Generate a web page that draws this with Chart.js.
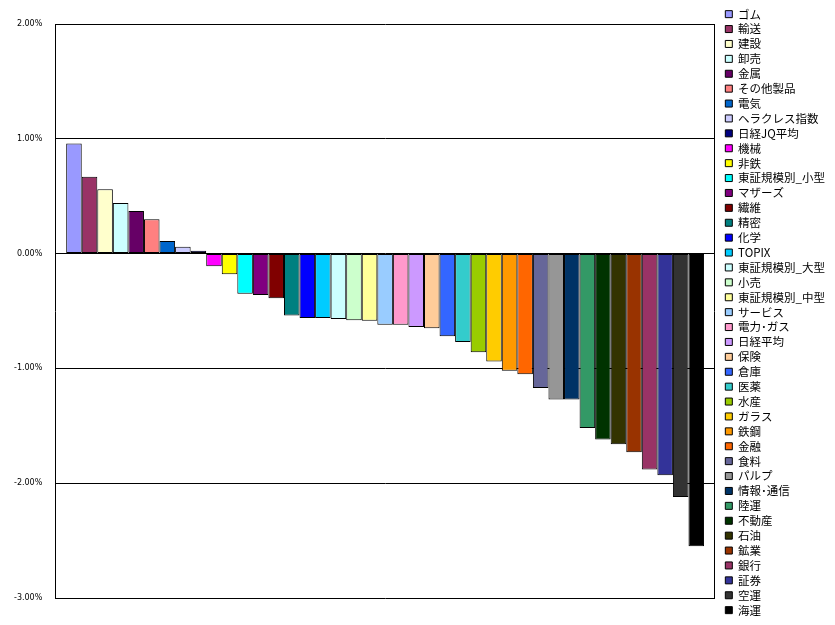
<!DOCTYPE html>
<html>
<head>
<meta charset="utf-8">
<script src="https://cdn.jsdelivr.net/npm/chart.js@4/dist/chart.umd.min.js"></script>
<style>
  html, body { margin: 0; padding: 0; background: #fff; }
  #wrap { width: 835px; height: 625px; }
</style>
</head>
<body>
<div id="wrap"><canvas id="chart" width="835" height="625"></canvas></div>
<script>
// 業種別騰落率 (%), sorted high -> low
const sectors = [
  "ゴム", "輸送", "建設", "卸売", "金属", "その他製品", "電気", "ヘラクレス指数",
  "日経JQ平均", "機械", "非鉄", "東証規模別_小型", "マザーズ", "繊維", "精密", "化学",
  "TOPIX", "東証規模別_大型", "小売", "東証規模別_中型", "サービス", "電力･ガス", "日経平均",
  "保険", "倉庫", "医薬", "水産", "ガラス", "鉄鋼", "金融", "食料", "パルプ",
  "情報･通信", "陸運", "不動産", "石油", "鉱業", "銀行", "証券", "空運", "海運"
];
const changes = [
  0.96, 0.67, 0.56, 0.44, 0.37, 0.30, 0.11, 0.06,
  0.025, -0.11, -0.18, -0.35, -0.36, -0.39, -0.54, -0.56,
  -0.56, -0.57, -0.58, -0.585, -0.62, -0.62, -0.64,
  -0.65, -0.72, -0.77, -0.86, -0.94, -1.02, -1.05, -1.17, -1.27,
  -1.27, -1.52, -1.62, -1.66, -1.73, -1.88, -1.93, -2.12, -2.55
];
// Excel default series palette
const colors = [
  "#9999FF", "#993366", "#FFFFCC", "#CCFFFF", "#660066", "#FF8080", "#0066CC", "#CCCCFF",
  "#000080", "#FF00FF", "#FFFF00", "#00FFFF", "#800080", "#800000", "#008080", "#0000FF",
  "#00CCFF", "#CCFFFF", "#CCFFCC", "#FFFF99", "#99CCFF", "#FF99CC", "#CC99FF",
  "#FFCC99", "#3366FF", "#33CCCC", "#99CC00", "#FFCC00", "#FF9900", "#FF6600", "#666699", "#969696",
  "#003366", "#339966", "#003300", "#333300", "#993300", "#993366", "#333399", "#333333", "#000000"
];
const yMin = -3, yMax = 2, yStep = 1;

const datasets = sectors.map((name, i) => ({
  label: name,
  data: [changes[i]],
  backgroundColor: colors[i],
  borderColor: "#000",
  borderWidth: 1,
  borderSkipped: false,
  xAxisID: "x",
  yAxisID: "y",
  categoryPercentage: 0.967,
  barPercentage: 1.0
}));

new Chart(document.getElementById("chart"), {
  type: "bar",
  data: { labels: [""], datasets },
  options: {
    responsive: false,
    animation: false,
    layout: { padding: { left: 1, right: 0, top: 5, bottom: 0 } },
    plugins: {
      tooltip: { enabled: false },
      legend: {
        position: "right",
        align: "start",
        labels: {
          boxWidth: 7,
          boxHeight: 7,
          padding: 3.4,
          color: "#000",
          font: { family: "'Noto Sans CJK JP', 'MS PGothic', sans-serif", size: 11.5 }
        }
      }
    },
    scales: {
      y: {
        position: "left",
        min: yMin,
        max: yMax,
        ticks: {
          stepSize: yStep,
          padding: 13,
          color: "#000",
          font: { family: "'DejaVu Sans', sans-serif", size: 8 },
          callback: v => v.toFixed(2) + "%"
        },
        grid: { color: "#000", lineWidth: 1, drawTicks: false },
        border: { display: true, color: "#000", width: 1 }
      },
      yr: {
        axis: "y",
        position: "right",
        ticks: { display: false },
        grid: { display: false },
        border: { display: true, color: "#000", width: 1 },
        afterFit: s => { s.width = 7; }
      },
      x: {
        position: "bottom",
        ticks: { display: false },
        grid: { display: false },
        border: { display: false },
        afterFit: s => { s.height = 27; }
      },
      xt: {
        axis: "x",
        position: "top",
        ticks: { display: false },
        grid: { display: false },
        border: { display: false },
        afterFit: s => { s.height = 19; }
      }
    }
  }
});
</script>
</body>
</html>
